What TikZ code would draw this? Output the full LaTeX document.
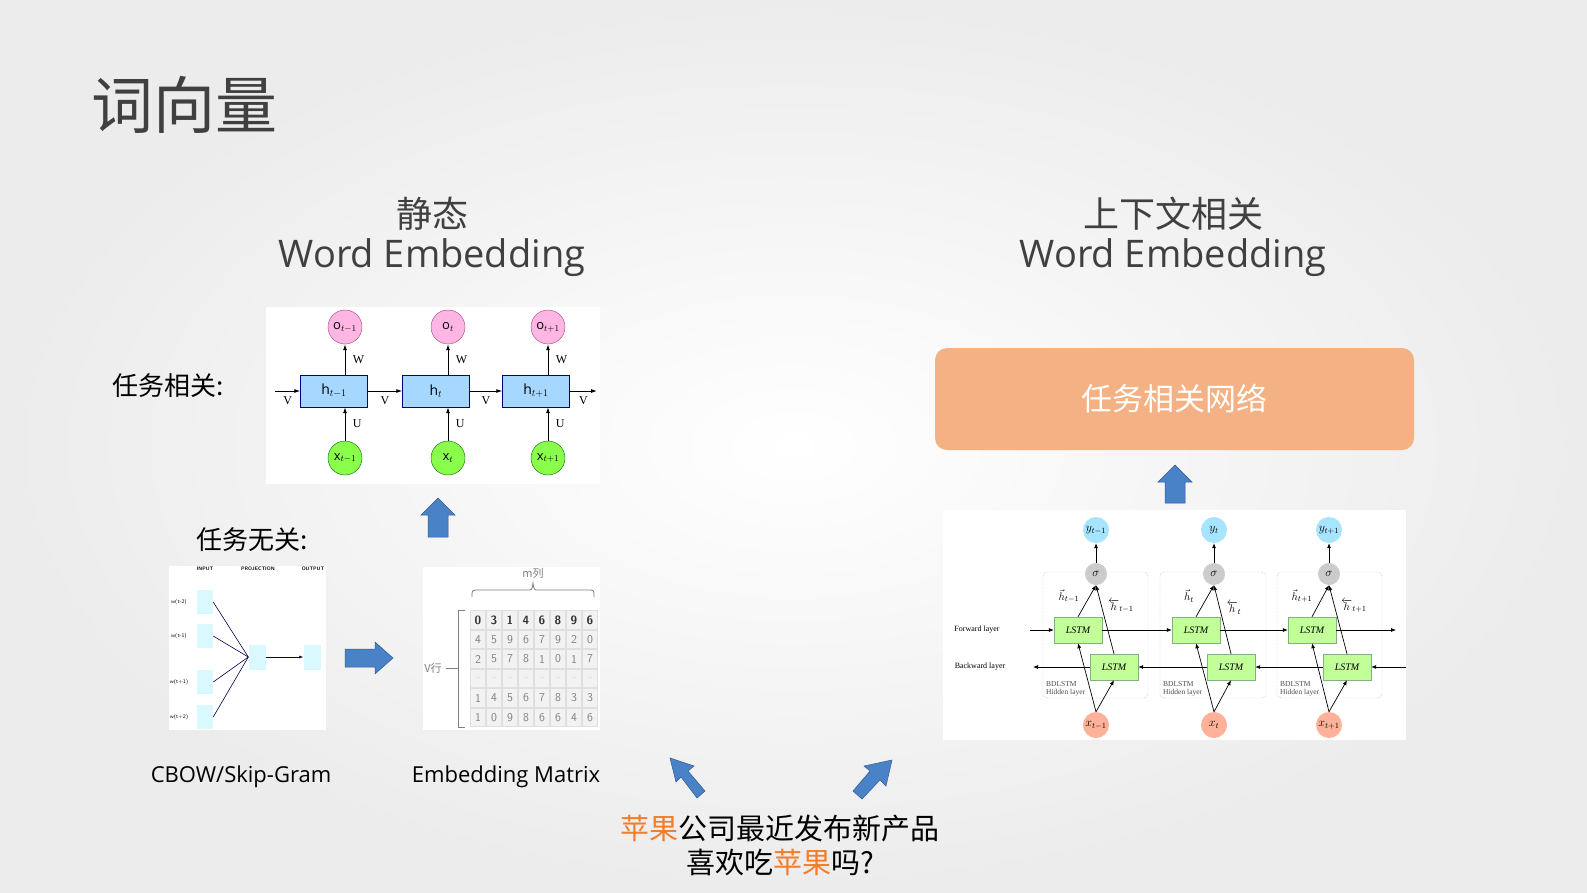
\documentclass[tikz,border=0pt]{standalone}
\usepackage{fontspec}
\setmainfont{Open Sans}
\newfontfamily\cjk{Noto Sans CJK SC}
\newfontfamily\serifx{Liberation Serif}
\usetikzlibrary{arrows.meta}
\definecolor{txt}{HTML}{404040}
\definecolor{blk}{HTML}{4A82C8}
\definecolor{org}{HTML}{F4B183}
\definecolor{orgt}{HTML}{F07E2A}
\begin{document}
\begin{tikzpicture}[x=1pt,y=-1pt,
  fs/.style={font=\fontsize{#1}{#1}\selectfont},
  panel/.style={fill=white,draw=none},
  ocirc/.style={circle,minimum size=34pt,inner sep=0pt,fill=pink!70!magenta!60,draw=magenta!60!black,fs=13},
  xcirc/.style={circle,minimum size=34pt,inner sep=0pt,fill=green!55!lime!70,draw=green!40!black,fs=13},
  hbox/.style={minimum width=67pt,minimum height=32pt,inner sep=0pt,fill=blue!45!cyan!35,draw=blue!50!black,fs=14},
  ar/.style={-{Latex[length=6pt,width=4pt]},line width=0.9pt},
  lbl/.style={font=\serifx\fontsize{12}{12}\selectfont},
  lstm/.style={minimum width=48pt,minimum height=26pt,inner sep=0pt,fill=green!45!lime!40,draw=green!40!black!50,font=\serifx\itshape\fontsize{10}{10}\selectfont},
  ycirc/.style={circle,minimum size=26pt,inner sep=0pt,fill=blue!30!cyan!35,font=\serifx\itshape\fontsize{12}{12}\selectfont},
  xo/.style={circle,minimum size=26pt,inner sep=0pt,fill=orange!50!red!40,font=\serifx\itshape\fontsize{12}{12}\selectfont},
  sig/.style={circle,minimum size=22pt,inner sep=0pt,fill=gray!40,font=\serifx\itshape\fontsize{13}{13}\selectfont},
  hid/.style={draw=blue!30!gray!60,densely dotted,rounded corners=4pt},
  tiny/.style={font=\serifx\fontsize{7.5}{8}\selectfont,text=black!70,align=left},
  hl/.style={font=\serifx\itshape\fontsize{11}{11}\selectfont,inner sep=0.5pt},
  blockarrow/.style={fill=blk,draw=blk!70!black,line width=0.5pt}
]
\useasboundingbox (0,0) rectangle (1587,892);
\shade[inner color=white,outer color=gray!15] (0,0) rectangle (1587,892);

% titles
\node[text=txt,font=\cjk\fontsize{62}{62}\selectfont,anchor=west] (title) at (88,105) {词向量};
\node[text=txt,font=\cjk\fontsize{36}{36}\selectfont] (t1a) at (432,214) {静态};
\node[text=txt,fs=38] (t1b) at (432,258) {Word Embedding};
\node[text=txt,font=\cjk\fontsize{36}{36}\selectfont] (t2a) at (1173,214) {上下文相关};
\node[text=txt,fs=38] (t2b) at (1173,258) {Word Embedding};
\node[font=\cjk\fontsize{26}{26}\selectfont,text=black] (rel) at (168,386) {任务相关:};
\node[font=\cjk\fontsize{26}{26}\selectfont,text=black] (irr) at (252,540) {任务无关:};

% RNN panel
\fill[panel] (266,307) rectangle (600,484);
\foreach \i/\x/\s in {1/345/{t-1},2/448/{t},3/548/{t+1}}{
  \node[ocirc] (o\i) at (\x,327) {o$_{\s}$};
  \node[xcirc] (x\i) at (\x,458) {x$_{\s}$};
}
\node[hbox] (h1) at (334,391) {h$_{t-1}$};
\node[hbox] (h2) at (436,391) {h$_{t}$};
\node[hbox] (h3) at (536,391) {h$_{t+1}$};
\foreach \i in {1,2,3}{
  \draw[ar] (x\i) -- (x\i |- h\i.south) node[midway,right,lbl,xshift=4pt]{U};
  \draw[ar] (o\i |- h\i.north) -- (o\i) node[midway,right,lbl,xshift=4pt]{W};
}
\coordinate (vin) at (275,391);
\coordinate (vout) at (597,391);
\draw[ar] (vin) -- (h1) node[midway,below,lbl,yshift=-2pt]{V};
\draw[ar] (h1) -- (h2) node[midway,below,lbl,yshift=-2pt]{V};
\draw[ar] (h2) -- (h3) node[midway,below,lbl,yshift=-2pt]{V};
\draw[ar] (h3) -- (vout) node[midway,below,lbl,yshift=-2pt]{V};

% block arrows
\draw[blockarrow] (428,537) -- (428,515) -- (421,515) -- (438,498) -- (455,515) -- (448,515) -- (448,537) -- cycle;
\draw[blockarrow] (1165,503) -- (1165,482) -- (1158,482) -- (1175,465) -- (1192,482) -- (1185,482) -- (1185,503) -- cycle;
\draw[blockarrow] (345,649) -- (375,649) -- (375,642) -- (393,658) -- (375,674) -- (375,667) -- (345,667) -- cycle;
\draw[blockarrow] (705,791) -- (688,771) -- (694,766) -- (670,758) -- (676,782) -- (681,777) -- (697,798) -- cycle;
\draw[blockarrow] (853,791) -- (870,771) -- (864,766) -- (892,760) -- (886,786) -- (880,780) -- (862,799) -- cycle;

% CBOW panel
\fill[panel] (169,566) rectangle (326,730);
\tikzset{cb/.style={fill=blue!15!cyan!15,inner sep=0pt,minimum width=16pt,minimum height=24pt}}
\node[font=\sffamily\bfseries\fontsize{5}{5}\selectfont] (inp) at (205,569) {INPUT};
\node[font=\sffamily\bfseries\fontsize{5}{5}\selectfont] (prj) at (258,569) {PROJECTION};
\node[font=\sffamily\bfseries\fontsize{5}{5}\selectfont] (outl) at (313,569) {OUTPUT};
\node[cb] (w1) at (205,602) {};
\node[cb] (w2) at (205,636) {};
\node[cb] (w3) at (205,682) {};
\node[cb] (w4) at (205,717) {};
\node[cb,minimum height=25pt,minimum width=17pt] (pj) at (257,657) {};
\node[cb,minimum height=25pt,minimum width=17pt] (op) at (312,657) {};
\foreach \i in {1,2,3,4}{
  \draw[line width=0.6pt,draw=blue!30!black] (w\i.east) -- (pj.west);
}
\node[font=\sffamily\fontsize{5.5}{5.5}\selectfont] (l1) at (179,602) {w(t-2)};
\node[font=\sffamily\fontsize{5.5}{5.5}\selectfont] (l2) at (179,636) {w(t-1)};
\node[font=\sffamily\fontsize{5.5}{5.5}\selectfont] (l3) at (179,682) {w(t+1)};
\node[font=\sffamily\fontsize{5.5}{5.5}\selectfont] (l4) at (179,717) {w(t+2)};
\draw[-{Latex[length=4pt,width=3pt]},line width=0.6pt,draw=blue!30!black] (pj) -- (op);

% matrix panel
\fill[panel] (423,567) rectangle (600,730);
\node[font=\cjk\fontsize{11}{11}\selectfont,text=gray] (mcol) at (533,573) {m列};
\draw[gray,line width=0.8pt] (472,597) .. controls (472,590) .. (478,590) -- (527,590) .. controls (532,590) .. (533,583) .. controls (534,590) .. (539,590) -- (588,590) .. controls (594,590) .. (594,597);
\node[font=\cjk\fontsize{11}{11}\selectfont,text=gray] (vrow) at (433,668) {V行};
\draw[gray,line width=0.8pt] (465,610) -- (458,610) -- (458,727) -- (465,727) (458,668) -- (446,668);
\fill[gray!25] (470,610) rectangle (598,727);
\foreach \r [count=\ri from 0] in {{0,3,1,4,6,8,9,6},{4,5,9,6,7,9,2,0},{2,5,7,8,1,0,1,7},{a,a,a,a,a,a,a,a},{1,4,5,6,7,8,3,3},{1,0,9,8,6,6,4,6}}{
  \foreach \v [count=\ci from 0] in \r {
    \fill[gray!10] (471+\ci*16,611+\ri*19.5) rectangle (485+\ci*16,628.5+\ri*19.5);
    \ifnum\ri=0
      \node[font=\sffamily\bfseries\fontsize{12}{12}\selectfont,text=black!80] at (478+\ci*16,620+\ri*19.5) {\v};
    \else\ifnum\ri=3
      \node[font=\sffamily\fontsize{5}{5}\selectfont,text=gray] at (478+\ci*16,620+\ri*19.5) {...};
    \else
      \node[font=\sffamily\fontsize{12}{12}\selectfont,text=gray] at (478+\ci*16,620+\ri*19.5) {\v};
    \fi\fi
  }
}
\node[fs=22,text=black] (cbow) at (241,777) {CBOW/Skip-Gram};
\node[fs=22,text=black] (emb) at (506,777) {Embedding Matrix};

% orange box
\node[fill=org,rounded corners=12pt,minimum width=479pt,minimum height=102pt,text=white,font=\cjk\fontsize{31}{31}\selectfont] (net) at (1174.5,399) {任务相关网络};

% BiLSTM panel
\fill[panel] (943,510) rectangle (1406,740);
\foreach \i/\x/\s in {1/1096/{t-1},2/1214/{t},3/1329/{t+1}}{
  \node[ycirc] (y\i) at (\x,530) {$y_{\s}$};
  \node[sig] (s\i) at (\x,574) {$\sigma$};
  \node[xo] (xx\i) at (\x,725) {$x_{\s}$};
}
\draw[hid] (1043,572) rectangle (1148,698);
\draw[hid] (1160,572) rectangle (1266,698);
\draw[hid] (1277,572) rectangle (1382,698);
\node[lstm] (f1) at (1078,630) {LSTM};
\node[lstm] (f2) at (1196,630) {LSTM};
\node[lstm] (f3) at (1312,630) {LSTM};
\node[lstm] (b1) at (1114,667) {LSTM};
\node[lstm] (b2) at (1231,667) {LSTM};
\node[lstm] (b3) at (1347,667) {LSTM};
\node[tiny,anchor=south west,inner sep=1pt] (hl1) at (1045,697) {BDLSTM\\Hidden layer};
\node[tiny,anchor=south west,inner sep=1pt] (hl2) at (1162,697) {BDLSTM\\Hidden layer};
\node[tiny,anchor=south west,inner sep=1pt] (hl3) at (1279,697) {BDLSTM\\Hidden layer};
\tikzset{br/.style={-{Latex[length=5pt,width=4pt]},line width=0.7pt}}
\foreach \i in {1,2,3}{
  \draw[br] (s\i) -- (y\i);
  \draw[br] (f\i.north) -- (s\i.south);
  \draw[br] (b\i.north) -- (s\i.south);
  \draw[br] (xx\i.north) -- (f\i.south);
  \draw[br] (xx\i.north) -- (b\i.south);
}
\node[hl] (hf1) at (1069,596) {$\vec h_{t-1}$};
\node[hl] (hb1) at (1121,606) {$\overleftarrow{h}_{t-1}$};
\node[hl] (hf2) at (1189,596) {$\vec h_{t}$};
\node[hl] (hb2) at (1234,608) {$\overleftarrow{h}_{t}$};
\node[hl] (hf3) at (1302,596) {$\vec h_{t+1}$};
\node[hl] (hb3) at (1354,606) {$\overleftarrow{h}_{t+1}$};
\node[font=\serifx\fontsize{8}{8}\selectfont] (fl) at (977,630) {Forward layer};
\node[font=\serifx\fontsize{8}{8}\selectfont] (bl) at (980,667) {Backward layer};
\coordinate (fin) at (1030,630); \coordinate (fout) at (1396,630);
\coordinate (bin) at (1406,667); \coordinate (bout) at (1033,667);
\draw[br] (fin) -- (f1); \draw[br] (f1) -- (f2); \draw[br] (f2) -- (f3); \draw[br] (f3) -- (fout);
\draw[br] (bin) -- (b3); \draw[br] (b3) -- (b2); \draw[br] (b2) -- (b1); \draw[br] (b1) -- (bout);

% bottom text
\node[font=\cjk\fontsize{29}{29}\selectfont,text=black] (q1) at (780,829) {\textcolor{orgt}{苹果}公司最近发布新产品};
\node[font=\cjk\fontsize{29}{29}\selectfont,text=black] (q2) at (780,862) {喜欢吃\textcolor{orgt}{苹果}吗?};
\end{tikzpicture}
\end{document}
